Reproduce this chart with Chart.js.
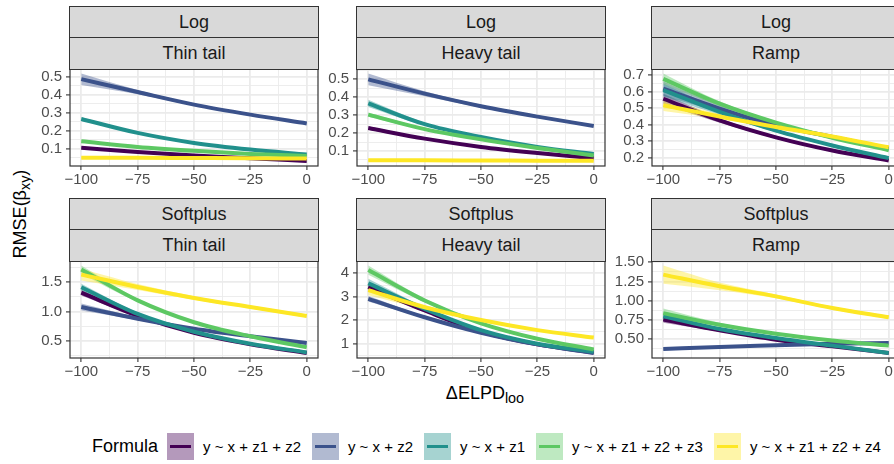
<!DOCTYPE html>
<html>
<head>
<meta charset="utf-8">
<script src="https://cdn.jsdelivr.net/npm/chart.js@4.4.1/dist/chart.umd.min.js"></script>
<style>
  html, body { margin: 0; padding: 0; }
  body { width: 894px; height: 464px; overflow: hidden; background: #ffffff; position: relative;
         font-family: "Liberation Sans", Arial, Helvetica, sans-serif; }
  canvas { position: absolute; }
  .strip { position: absolute; box-sizing: border-box; background: #D9D9D9; border: 1.2px solid #333333;
           color: #1A1A1A; font-size: 18px; line-height: 1; display: flex; align-items: center; justify-content: center; }
  #xtitle { position: absolute; left: 385px; width: 200px; top: 384px; text-align: center; font-size: 18px; line-height: 18px; color: #000; white-space: nowrap; }
  #ytitle { position: absolute; width: 200px; height: 18px; left: -79.8px; top: 204.5px; text-align: center; font-size: 18px; line-height: 18px; color: #000; transform: rotate(-90deg); white-space: nowrap; }
  #legend { position: absolute; left: 92px; top: 433px; height: 27px; display: flex; align-items: center; white-space: nowrap; }
  .ltitle { font-size: 18px; color: #000; margin-right: 9px; }
  .lkey { width: 26.7px; height: 26.7px; position: relative; margin-right: 9.3px; flex: none; }
  .lkey span { position: absolute; left: 3px; right: 3px; top: 11.6px; height: 3.6px; }
  .ltext { font-size: 15px; color: #000; margin-right: 11px; }
</style>
</head>
<body>
<div id="xtitle">ΔELPD<span style="font-size:14.4px;position:relative;top:4px;">loo</span></div>
<div id="ytitle">RMSE(β<span style="font-size:14.4px;position:relative;top:4px;">xy</span>)</div>
<div id="legend"></div>
<script>
// ---------------- data ----------------
const xValues = [-100, -75, -50, -25, 0];
const xTicks = [-100, -75, -50, -25, 0];
const formulas = ["y ~ x + z1 + z2", "y ~ x + z2", "y ~ x + z1", "y ~ x + z1 + z2 + z3", "y ~ x + z1 + z2 + z4"];
const colours = ["#440154", "#3B528B", "#21908C", "#5DC863", "#FDE725"];
const linkRows = ["Log", "Softplus"];
const noiseCols = ["Thin tail", "Heavy tail", "Ramp"];

// mean RMSE per formula (rows in formula order), at xValues
const logThinMean = [
  [0.104, 0.080, 0.061, 0.046, 0.030],
  [0.487, 0.415, 0.345, 0.289, 0.240],
  [0.265, 0.187, 0.131, 0.094, 0.067],
  [0.141, 0.109, 0.087, 0.070, 0.058],
  [0.048, 0.048, 0.047, 0.046, 0.044]
];
const logThinBand = [
  [0.007, 0.004, 0.003, 0.003, 0.003],
  [0.032, 0.012, 0.007, 0.006, 0.006],
  [0.010, 0.005, 0.004, 0.004, 0.004],
  [0.007, 0.004, 0.003, 0.003, 0.003],
  [0.004, 0.003, 0.002, 0.002, 0.003]
];
const logHeavyMean = [
  [0.228, 0.169, 0.123, 0.089, 0.060],
  [0.500, 0.420, 0.350, 0.292, 0.240],
  [0.366, 0.250, 0.178, 0.123, 0.083],
  [0.303, 0.222, 0.165, 0.117, 0.075],
  [0.048, 0.048, 0.047, 0.046, 0.045]
];
const logHeavyBand = [
  [0.010, 0.005, 0.004, 0.003, 0.004],
  [0.033, 0.014, 0.008, 0.007, 0.007],
  [0.020, 0.008, 0.005, 0.005, 0.005],
  [0.012, 0.006, 0.004, 0.004, 0.004],
  [0.004, 0.003, 0.003, 0.003, 0.004]
];
const logRampMean = [
  [0.557, 0.425, 0.322, 0.242, 0.182],
  [0.618, 0.497, 0.395, 0.325, 0.255],
  [0.610, 0.477, 0.363, 0.273, 0.196],
  [0.678, 0.527, 0.412, 0.320, 0.244],
  [0.517, 0.449, 0.385, 0.328, 0.262]
];
const logRampBand = [
  [0.030, 0.014, 0.008, 0.007, 0.007],
  [0.045, 0.020, 0.010, 0.008, 0.008],
  [0.040, 0.018, 0.010, 0.008, 0.008],
  [0.033, 0.015, 0.008, 0.007, 0.008],
  [0.035, 0.015, 0.008, 0.007, 0.008]
];
const softThinMean = [
  [1.320, 0.930, 0.640, 0.446, 0.300],
  [1.076, 0.880, 0.710, 0.582, 0.469],
  [1.410, 0.960, 0.660, 0.457, 0.310],
  [1.710, 1.190, 0.820, 0.582, 0.396],
  [1.624, 1.415, 1.230, 1.076, 0.924]
];
const softThinBand = [
  [0.050, 0.020, 0.012, 0.010, 0.010],
  [0.060, 0.025, 0.012, 0.010, 0.012],
  [0.060, 0.025, 0.012, 0.010, 0.010],
  [0.070, 0.030, 0.015, 0.012, 0.012],
  [0.100, 0.050, 0.030, 0.025, 0.025]
];
const softHeavyMean = [
  [3.42, 2.41, 1.51, 0.96, 0.61],
  [2.91, 2.12, 1.46, 0.96, 0.59],
  [3.57, 2.48, 1.57, 0.99, 0.64],
  [4.14, 2.84, 1.86, 1.20, 0.74],
  [3.28, 2.55, 2.00, 1.57, 1.25]
];
const softHeavyBand = [
  [0.15, 0.06, 0.03, 0.025, 0.025],
  [0.12, 0.05, 0.03, 0.025, 0.025],
  [0.20, 0.08, 0.04, 0.030, 0.030],
  [0.20, 0.08, 0.04, 0.030, 0.030],
  [0.22, 0.09, 0.045, 0.035, 0.035]
];
const softRampMean = [
  [0.752, 0.613, 0.491, 0.404, 0.317],
  [0.370, 0.395, 0.417, 0.439, 0.448],
  [0.796, 0.630, 0.513, 0.413, 0.317],
  [0.837, 0.685, 0.567, 0.480, 0.413],
  [1.340, 1.187, 1.056, 0.904, 0.783]
];
const softRampBand = [
  [0.040, 0.018, 0.010, 0.008, 0.008],
  [0.015, 0.010, 0.008, 0.008, 0.008],
  [0.050, 0.020, 0.010, 0.008, 0.008],
  [0.060, 0.025, 0.012, 0.010, 0.010],
  [0.120, 0.050, 0.025, 0.020, 0.020]
];

// y tick labels per panel
const logThinTicks = [0.1, 0.2, 0.3, 0.4, 0.5];
const logHeavyTicks = [0.1, 0.2, 0.3, 0.4, 0.5];
const logRampTicks = [0.2, 0.3, 0.4, 0.5, 0.6, 0.7];
const softThinTicks = [0.5, 1.0, 1.5];
const softHeavyTicks = [1, 2, 3, 4];
const softRampTicks = [0.5, 0.75, 1.0, 1.25, 1.5];

// ---------------- layout / style ----------------
const colLefts = [70, 357, 652];
const rowTops = [69, 261];
const PW = 248, PH = 97, AXW = 50, AXH = 30, PADT = 12, PADR = 2;
const FONT = '"Liberation Sans", Arial, Helvetica, sans-serif';

Chart.defaults.font.family = FONT;

function hexA(hex, a) {
  const n = parseInt(hex.slice(1), 16);
  return `rgba(${(n >> 16) & 255},${(n >> 8) & 255},${n & 255},${a})`;
}

function withMinor(major, lo, hi) {
  const out = major.map(v => ({ value: v, minor: false }));
  const step = major[1] - major[0];
  const mids = [];
  mids.push(major[0] - step / 2);
  for (let i = 0; i < major.length - 1; i++) mids.push((major[i] + major[i + 1]) / 2);
  mids.push(major[major.length - 1] + step / 2);
  mids.forEach(v => { if (v >= lo && v <= hi) out.push({ value: v, minor: true }); });
  out.sort((a, b) => a.value - b.value);
  return out;
}

const gridCommon = {
  color: '#EBEBEB',
  lineWidth: c => (c.tick && c.tick.minor) ? 0.9 : 1.8,
  tickColor: c => (c.tick && c.tick.minor) ? 'rgba(0,0,0,0)' : '#333333',
  tickWidth: 1.1,
  tickLength: 4,
  drawTicks: true
};

const borderPlugin = {
  id: 'panelBorder',
  afterDraw(chart) {
    const { ctx, chartArea: a } = chart;
    ctx.save();
    ctx.strokeStyle = '#333333';
    ctx.lineWidth = 1.2;
    ctx.strokeRect(a.left, a.top, a.right - a.left, a.bottom - a.top);
    ctx.restore();
  }
};

function makePanel(row, col, means, bands, yTicks, decimals) {
  const plotLeft = colLefts[col], plotTop = rowTops[row];
  const W = AXW + PW + PADR, H = PADT + PH + AXH;
  const canvas = document.createElement('canvas');
  canvas.width = W; canvas.height = H;
  canvas.style.width = W + 'px'; canvas.style.height = H + 'px';
  canvas.style.left = (plotLeft - AXW) + 'px';
  canvas.style.top = (plotTop - PADT) + 'px';
  document.body.appendChild(canvas);

  // strips
  const sA = document.createElement('div');
  sA.className = 'strip'; sA.textContent = linkRows[row];
  sA.style.left = (plotLeft - 0.6) + 'px'; sA.style.width = (PW + 1.2) + 'px';
  sA.style.top = (plotTop - 63.5) + 'px'; sA.style.height = '32.5px';
  document.body.appendChild(sA);
  const sB = document.createElement('div');
  sB.className = 'strip'; sB.textContent = noiseCols[col];
  sB.style.left = (plotLeft - 0.6) + 'px'; sB.style.width = (PW + 1.2) + 'px';
  sB.style.top = (plotTop - 32.2) + 'px'; sB.style.height = '32.8px';
  document.body.appendChild(sB);

  const lo = means.map((r, i) => r.map((v, j) => v - bands[i][j]));
  const hi = means.map((r, i) => r.map((v, j) => v + bands[i][j]));
  const dmin = Math.min(...lo.flat()), dmax = Math.max(...hi.flat());
  const ext = (dmax - dmin) * 0.05;
  const yMin = dmin - ext, yMax = dmax + ext;

  const datasets = [];
  means.forEach((row_, s) => {
    datasets.push({
      data: xValues.map((x, j) => ({ x, y: lo[s][j] })),
      borderWidth: 0, borderColor: 'rgba(0,0,0,0)', pointRadius: 0, fill: false,
      cubicInterpolationMode: 'monotone', order: 100 + (4 - s)
    });
    datasets.push({
      data: xValues.map((x, j) => ({ x, y: hi[s][j] })),
      borderWidth: 0, borderColor: 'rgba(0,0,0,0)', pointRadius: 0,
      fill: '-1', backgroundColor: hexA(colours[s], 0.4),
      cubicInterpolationMode: 'monotone', order: 100 + (4 - s)
    });
  });
  means.forEach((r, s) => {
    datasets.push({
      data: xValues.map((x, j) => ({ x, y: r[j] })),
      borderColor: colours[s], borderWidth: 4, pointRadius: 0, fill: false,
      borderCapStyle: 'butt', borderJoinStyle: 'round',
      cubicInterpolationMode: 'monotone', order: 4 - s
    });
  });

  const yTickObjs = withMinor(yTicks, yMin, yMax);
  const xTickObjs = withMinor(xTicks, -105, 5);

  new Chart(canvas, {
    type: 'line',
    data: { datasets },
    plugins: [borderPlugin],
    options: {
      responsive: false,
      animation: false,
      events: [],
      layout: { autoPadding: false, padding: { left: 0, right: PADR, top: PADT, bottom: 0 } },
      plugins: { legend: { display: false }, tooltip: { enabled: false } },
      scales: {
        x: {
          type: 'linear', min: -105, max: 5,
          border: { display: false },
          grid: gridCommon,
          afterBuildTicks: sc => { sc.ticks = xTickObjs.map(t => ({ value: t.value, minor: t.minor })); },
          afterFit: sc => { sc.height = AXH; sc.paddingLeft = 0; sc.paddingRight = 0; },
          ticks: {
            autoSkip: false, maxRotation: 0, minRotation: 0, padding: 1,
            color: '#4D4D4D', font: { size: 15, family: FONT },
            callback: (v, i, ticks) => ticks[i].minor ? '' : (v < 0 ? '\u2212' + Math.abs(v) : String(v))
          }
        },
        y: {
          type: 'linear', min: yMin, max: yMax,
          border: { display: false },
          grid: gridCommon,
          afterBuildTicks: sc => { sc.ticks = yTickObjs.map(t => ({ value: t.value, minor: t.minor })); },
          afterFit: sc => { sc.width = AXW; sc.paddingTop = 0; sc.paddingBottom = 0; },
          ticks: {
            autoSkip: false, padding: 4,
            color: '#4D4D4D', font: { size: 15, family: FONT },
            callback: (v, i, ticks) => ticks[i].minor ? '' : Number(v).toFixed(decimals)
          }
        }
      }
    }
  });
}

makePanel(0, 0, logThinMean, logThinBand, logThinTicks, 1);
makePanel(0, 1, logHeavyMean, logHeavyBand, logHeavyTicks, 1);
makePanel(0, 2, logRampMean, logRampBand, logRampTicks, 1);
makePanel(1, 0, softThinMean, softThinBand, softThinTicks, 1);
makePanel(1, 1, softHeavyMean, softHeavyBand, softHeavyTicks, 0);
makePanel(1, 2, softRampMean, softRampBand, softRampTicks, 2);

// legend
const legend = document.getElementById('legend');
const lt = document.createElement('span');
lt.className = 'ltitle'; lt.textContent = 'Formula';
legend.appendChild(lt);
formulas.forEach((f, s) => {
  const key = document.createElement('div');
  key.className = 'lkey';
  key.style.background = hexA(colours[s], 0.4);
  const ln = document.createElement('span');
  ln.style.background = colours[s];
  key.appendChild(ln);
  legend.appendChild(key);
  const t = document.createElement('span');
  t.className = 'ltext'; t.textContent = f;
  legend.appendChild(t);
});
</script>
</body>
</html>
